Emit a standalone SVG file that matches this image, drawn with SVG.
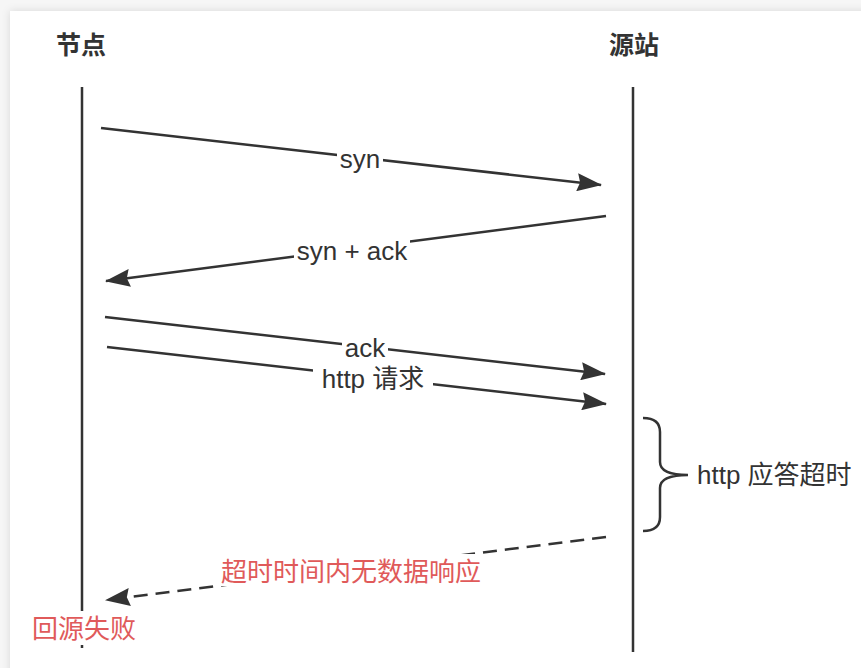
<svg xmlns="http://www.w3.org/2000/svg" width="861" height="668" viewBox="0 0 861 668">
  <defs>
    <filter id="shadow" x="-5%" y="-5%" width="110%" height="110%">
      <feDropShadow dx="0" dy="0" stdDeviation="4" flood-color="#000" flood-opacity="0.12"/>
    </filter>
    <marker id="arrow" markerUnits="userSpaceOnUse" markerWidth="26" markerHeight="18" refX="24" refY="9" orient="auto">
      <path d="M0,0 L25,9 L0,18 L3,9 Z" fill="#333"/>
    </marker>
  </defs>
  <style>
    .life { stroke: #333; stroke-width: 2.5; fill: none; }
    .msg { stroke: #333; stroke-width: 2.5; fill: none; marker-end: url(#arrow); }
    .dash { stroke-dasharray: 14 8; }
    .lbl { font-family: "Liberation Sans", "Noto Sans CJK SC", sans-serif; font-size: 26px; fill: #333; text-anchor: middle; }
    .head { font-family: "Liberation Sans", "Noto Sans CJK SC", sans-serif; font-size: 25px; font-weight: bold; fill: #333; text-anchor: middle; }
    .red { fill: #e05a5a; }
    .bg { fill: #fff; }
  </style>
  <rect x="0" y="0" width="861" height="668" fill="#f6f6f6"/>
  <rect x="10" y="11" width="880" height="690" fill="#fff" filter="url(#shadow)"/>

  <g id="node-jiedian">
    <text class="head" x="81" y="54">节点</text>
    <line class="life" x1="82" y1="87" x2="82" y2="648"/>
  </g>
  <g id="node-yuanzhan">
    <text class="head" x="634" y="54">源站</text>
    <line class="life" x1="633" y1="87" x2="633" y2="652"/>
  </g>

  <g id="connectors">
    <line class="msg" x1="101" y1="128" x2="601" y2="185"/>
    <rect class="bg" x="337" y="148" width="46" height="24"/>
    <text class="lbl" x="360" y="168">syn</text>

    <line class="msg" x1="606" y1="216" x2="106" y2="281"/>
    <rect class="bg" x="294" y="238" width="116" height="26"/>
    <text class="lbl" x="352" y="260">syn + ack</text>

    <line class="msg" x1="105" y1="317" x2="605" y2="374"/>
    <rect class="bg" x="342" y="338" width="46" height="22"/>
    <text class="lbl" x="365" y="357">ack</text>

    <line class="msg" x1="107" y1="347" x2="606" y2="404"/>
    <rect class="bg" x="313" y="366" width="120" height="24"/>
    <text class="lbl" x="373" y="388">http 请求</text>

    <line class="msg dash" x1="606" y1="537" x2="106" y2="600"/>
    <rect class="bg" x="216" y="554" width="270" height="32"/>
    <text class="lbl red" x="351" y="581">超时时间内无数据响应</text>
  </g>

  <g id="brace-timeout">
    <path d="M643,418 Q660,418 660,432 L660,462 Q660,475 688,475 Q660,475 660,488 L660,517 Q660,531 643,531" stroke="#333" stroke-width="2.5" fill="none"/>
    <text class="lbl" x="697" y="484" style="text-anchor:start">http 应答超时</text>
  </g>

  <g id="label-fail">
    <rect class="bg" x="30" y="611" width="108" height="34"/>
    <text class="lbl red" x="84" y="638">回源失败</text>
  </g>
</svg>
